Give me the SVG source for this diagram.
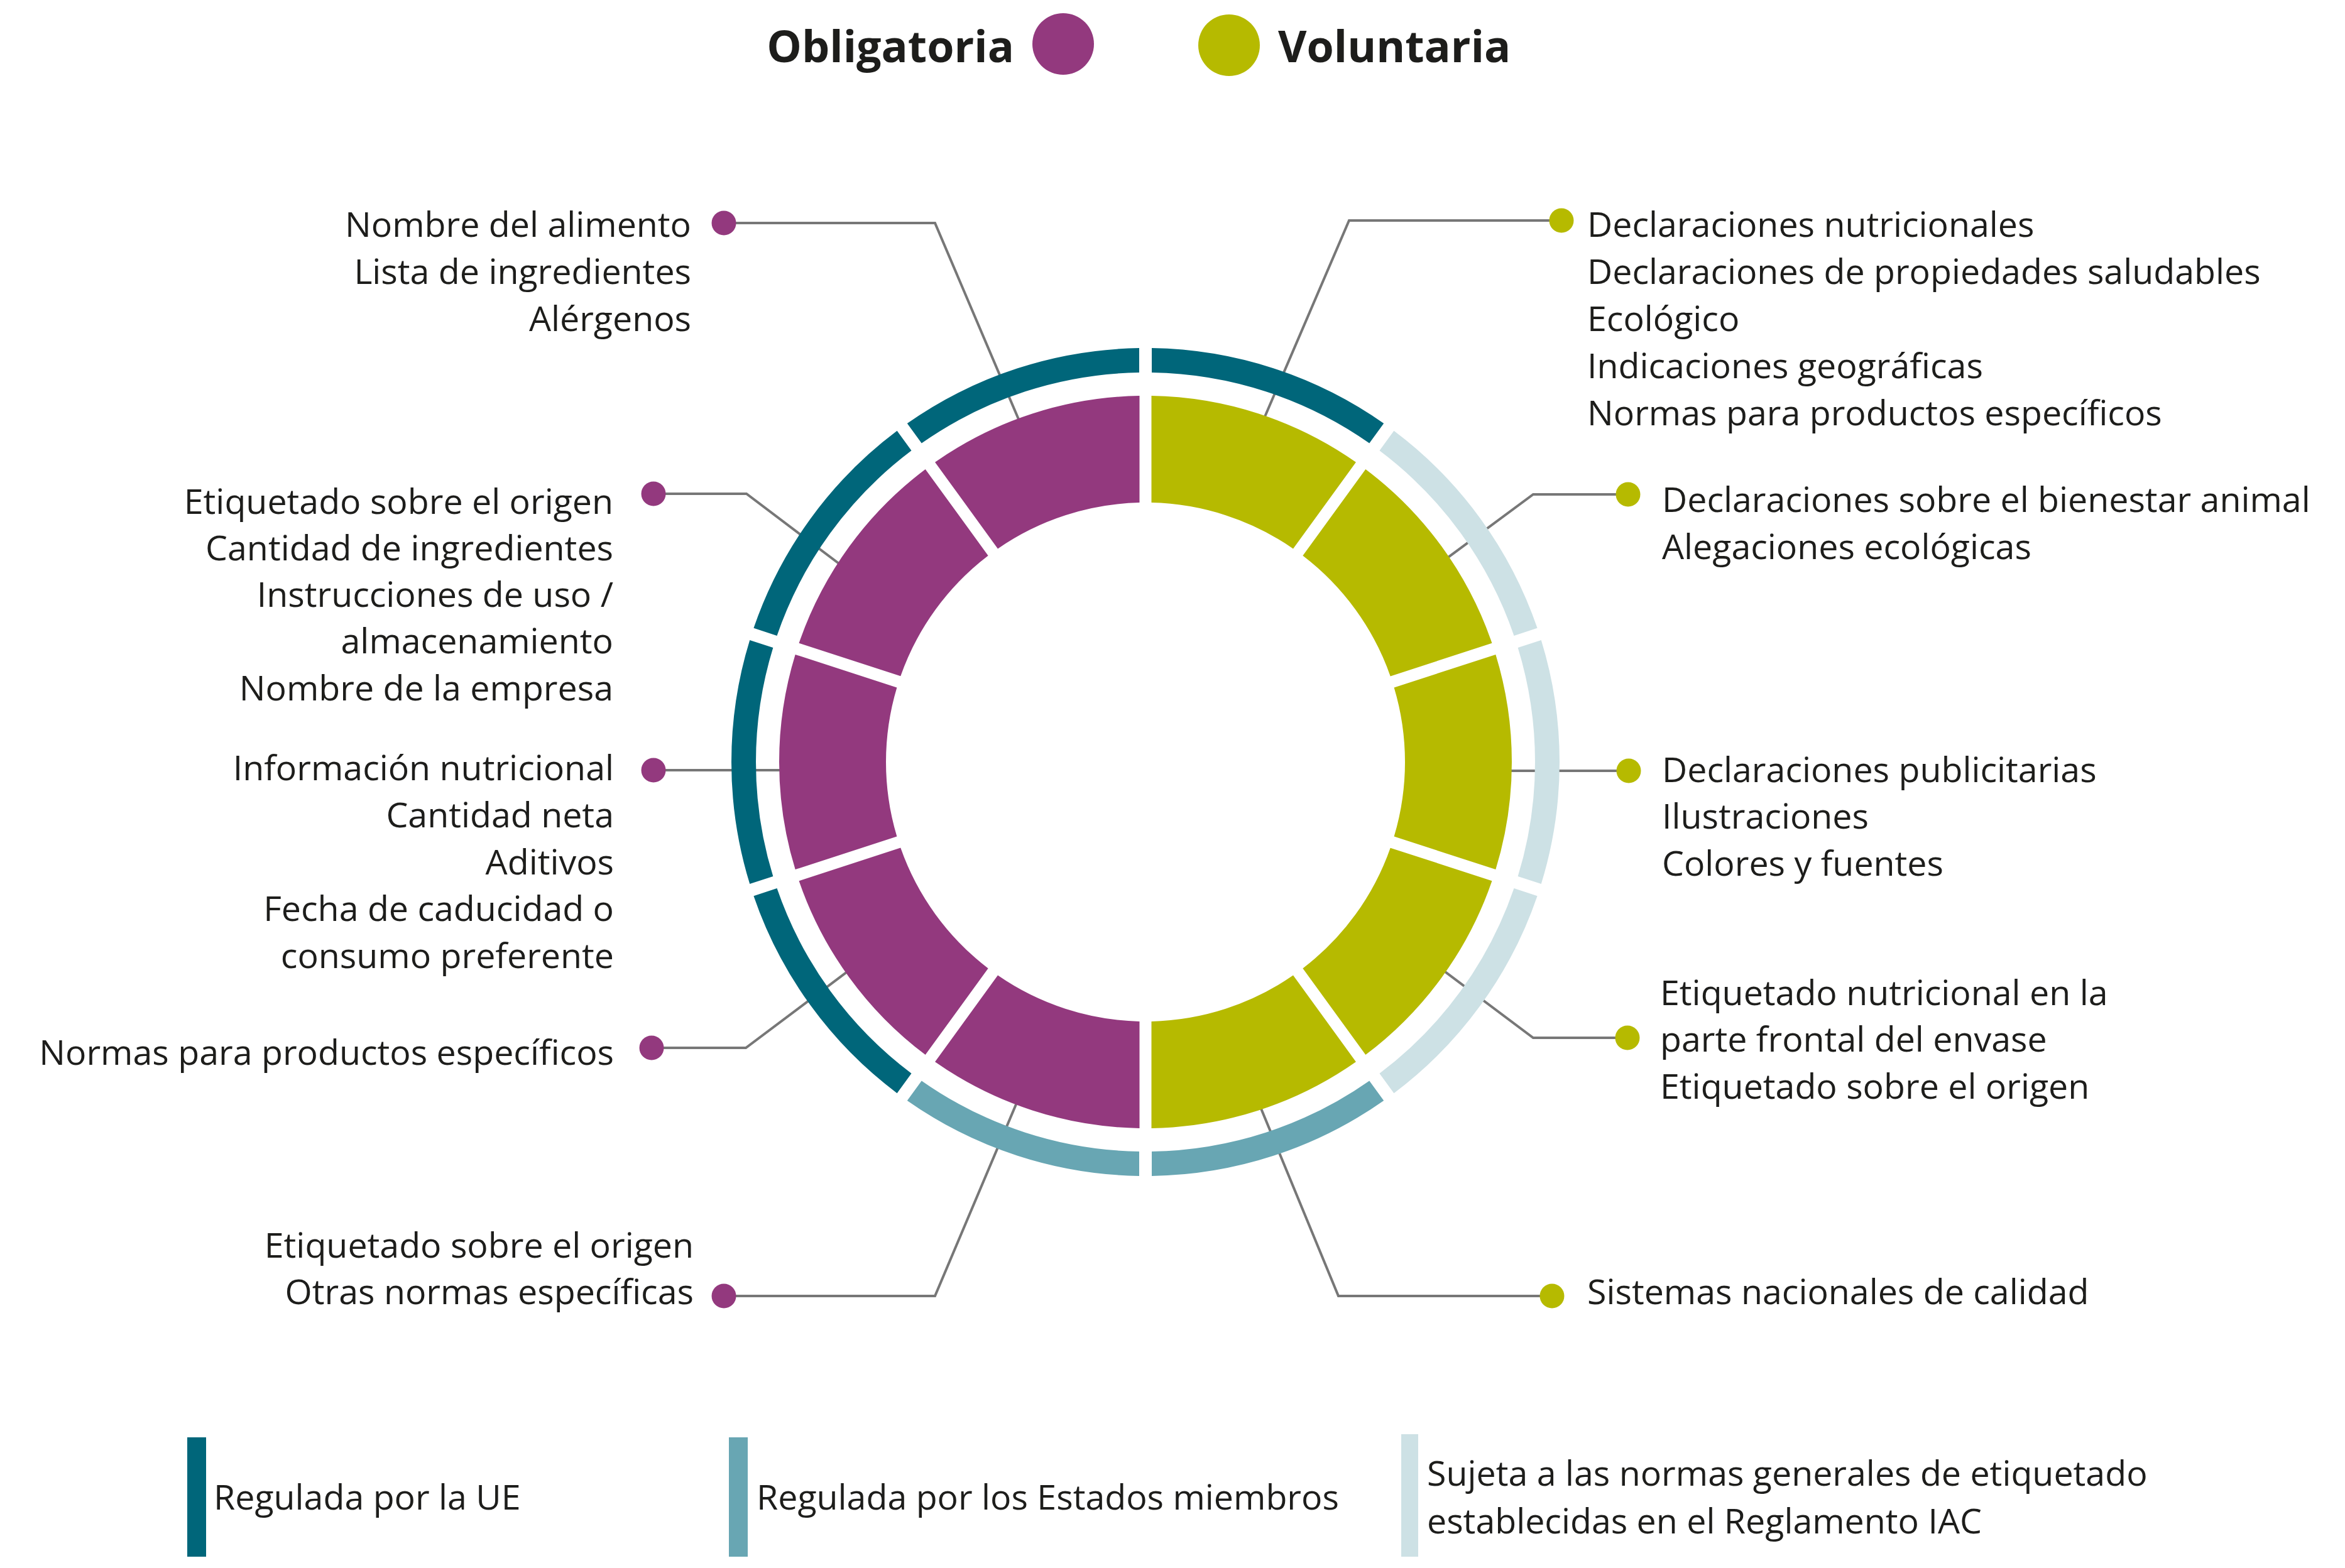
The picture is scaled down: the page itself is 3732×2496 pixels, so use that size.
<svg xmlns="http://www.w3.org/2000/svg" xmlns:xlink="http://www.w3.org/1999/xlink" width="3732" height="2496" viewBox="0 0 3732 2496">
  <style>
    .t { font-family: "Open Sans", "Liberation Sans", sans-serif; font-size: 55.5px; fill: #1d1d1b; }
    .end { text-anchor: end; }
    .title { font-family: "Open Sans", "Liberation Sans", sans-serif; font-size: 70px; font-weight: 700; fill: #1d1d1b; }
    .conn { fill: none; stroke: #777777; stroke-width: 4; stroke-linejoin: miter; }
    .pur { fill: #93397e; }
    .grn { fill: #b6ba00; }
    .dk { fill: #00667a; }
    .md { fill: #68a6b3; }
    .lt { fill: #cde1e5; }
  </style>
  <defs>
    <path id="seg" d="M 9.49 -582.92 A 583 583 0 0 1 334.95 -477.17 L 235.01 -339.62 A 413 413 0 0 0 9.50 -412.89 Z"/>
    <path id="arc" d="M 10 -658.92 A 659 659 0 0 1 379.21 -538.96 L 356.29 -507.40 A 620 620 0 0 0 10 -619.92 Z"/>
    <circle id="dot" r="19.5"/>
  </defs>
  <rect width="3732" height="2496" fill="#ffffff"/>

  <g id="legend-top">
    <text class="title end" x="1614" y="99">Obligatoria</text>
    <circle class="pur" cx="1692" cy="70" r="49"/>
    <circle class="grn" cx="1956" cy="72" r="49"/>
    <text class="title" x="2034" y="99">Voluntaria</text>
  </g>

  <g id="connectors">
    <polyline class="conn" points="1152,355 1488,355 1652,740"/>
    <polyline class="conn" points="1040,786 1188,786 1400,946"/>
    <polyline class="conn" points="1040,1226 1330,1226"/>
    <polyline class="conn" points="1037,1668 1187,1668 1400,1508"/>
    <polyline class="conn" points="1152,2063 1488,2063 1650,1680"/>
    <polyline class="conn" points="2485,351 2147,351 1980,740"/>
    <polyline class="conn" points="2591,787 2440,787 2240,935"/>
    <polyline class="conn" points="2592,1227 2320,1227"/>
    <polyline class="conn" points="2590,1652 2440,1652 2240,1502"/>
    <polyline class="conn" points="2470,2063 2130,2063 1972,1680"/>
  </g>

  <g id="ring" transform="translate(1823,1213)">
    <g id="seg-v1"><use xlink:href="#arc" class="dk"/><use xlink:href="#seg" class="grn"/></g>
    <g id="seg-v2" transform="rotate(36)"><use xlink:href="#arc" class="lt"/><use xlink:href="#seg" class="grn"/></g>
    <g id="seg-v3" transform="rotate(72)"><use xlink:href="#arc" class="lt"/><use xlink:href="#seg" class="grn"/></g>
    <g id="seg-v4" transform="rotate(108)"><use xlink:href="#arc" class="lt"/><use xlink:href="#seg" class="grn"/></g>
    <g id="seg-v5" transform="rotate(144)"><use xlink:href="#arc" class="md"/><use xlink:href="#seg" class="grn"/></g>
    <g id="seg-o5" transform="rotate(180)"><use xlink:href="#arc" class="md"/><use xlink:href="#seg" class="pur"/></g>
    <g id="seg-o4" transform="rotate(216)"><use xlink:href="#arc" class="dk"/><use xlink:href="#seg" class="pur"/></g>
    <g id="seg-o3" transform="rotate(252)"><use xlink:href="#arc" class="dk"/><use xlink:href="#seg" class="pur"/></g>
    <g id="seg-o2" transform="rotate(288)"><use xlink:href="#arc" class="dk"/><use xlink:href="#seg" class="pur"/></g>
    <g id="seg-o1" transform="rotate(324)"><use xlink:href="#arc" class="dk"/><use xlink:href="#seg" class="pur"/></g>
  </g>

  <g id="label-o1">
    <use xlink:href="#dot" class="pur" x="1152" y="355"/>
    <text class="t end" x="1100" y="377">Nombre del alimento</text>
    <text class="t end" x="1100" y="452">Lista de ingredientes</text>
    <text class="t end" x="1100" y="527">Alérgenos</text>
  </g>
  <g id="label-o2">
    <use xlink:href="#dot" class="pur" x="1040" y="786"/>
    <text class="t end" x="976" y="818">Etiquetado sobre el origen</text>
    <text class="t end" x="976" y="892">Cantidad de ingredientes</text>
    <text class="t end" x="976" y="966">Instrucciones de uso /</text>
    <text class="t end" x="976" y="1040">almacenamiento</text>
    <text class="t end" x="976" y="1115">Nombre de la empresa</text>
  </g>
  <g id="label-o3">
    <use xlink:href="#dot" class="pur" x="1040" y="1226"/>
    <text class="t end" x="977" y="1242">Información nutricional</text>
    <text class="t end" x="977" y="1317">Cantidad neta</text>
    <text class="t end" x="977" y="1392">Aditivos</text>
    <text class="t end" x="977" y="1466">Fecha de caducidad o</text>
    <text class="t end" x="977" y="1541">consumo preferente</text>
  </g>
  <g id="label-o4">
    <use xlink:href="#dot" class="pur" x="1037" y="1668"/>
    <text class="t end" x="977" y="1695">Normas para productos específicos</text>
  </g>
  <g id="label-o5">
    <use xlink:href="#dot" class="pur" x="1152" y="2063"/>
    <text class="t end" x="1104" y="2002">Etiquetado sobre el origen</text>
    <text class="t end" x="1104" y="2076">Otras normas específicas</text>
  </g>

  <g id="label-v1">
    <use xlink:href="#dot" class="grn" x="2485" y="351"/>
    <text class="t" x="2526" y="377">Declaraciones nutricionales</text>
    <text class="t" x="2526" y="452">Declaraciones de propiedades saludables</text>
    <text class="t" x="2526" y="527">Ecológico</text>
    <text class="t" x="2526" y="602">Indicaciones geográficas</text>
    <text class="t" x="2526" y="677">Normas para productos específicos</text>
  </g>
  <g id="label-v2">
    <use xlink:href="#dot" class="grn" x="2591" y="787"/>
    <text class="t" x="2645" y="815">Declaraciones sobre el bienestar animal</text>
    <text class="t" x="2645" y="890">Alegaciones ecológicas</text>
  </g>
  <g id="label-v3">
    <use xlink:href="#dot" class="grn" x="2592" y="1227"/>
    <text class="t" x="2645" y="1245">Declaraciones publicitarias</text>
    <text class="t" x="2645" y="1319">Ilustraciones</text>
    <text class="t" x="2645" y="1394">Colores y fuentes</text>
  </g>
  <g id="label-v4">
    <use xlink:href="#dot" class="grn" x="2590" y="1652"/>
    <text class="t" x="2642" y="1600">Etiquetado nutricional en la</text>
    <text class="t" x="2642" y="1674">parte frontal del envase</text>
    <text class="t" x="2642" y="1749">Etiquetado sobre el origen</text>
  </g>
  <g id="label-v5">
    <use xlink:href="#dot" class="grn" x="2470" y="2063"/>
    <text class="t" x="2526" y="2076">Sistemas nacionales de calidad</text>
  </g>

  <g id="legend-bottom">
    <g id="leg-ue">
      <rect class="dk" x="298" y="2288" width="30" height="190"/>
      <text class="t" x="340" y="2403">Regulada por la UE</text>
    </g>
    <g id="leg-em">
      <rect class="md" x="1160" y="2288" width="30" height="190"/>
      <text class="t" x="1204" y="2403">Regulada por los Estados miembros</text>
    </g>
    <g id="leg-iac">
      <rect class="lt" x="2230" y="2283" width="27" height="195"/>
      <text class="t" x="2271" y="2365">Sujeta a las normas generales de etiquetado</text>
      <text class="t" x="2271" y="2441">establecidas en el Reglamento IAC</text>
    </g>
  </g>
</svg>
